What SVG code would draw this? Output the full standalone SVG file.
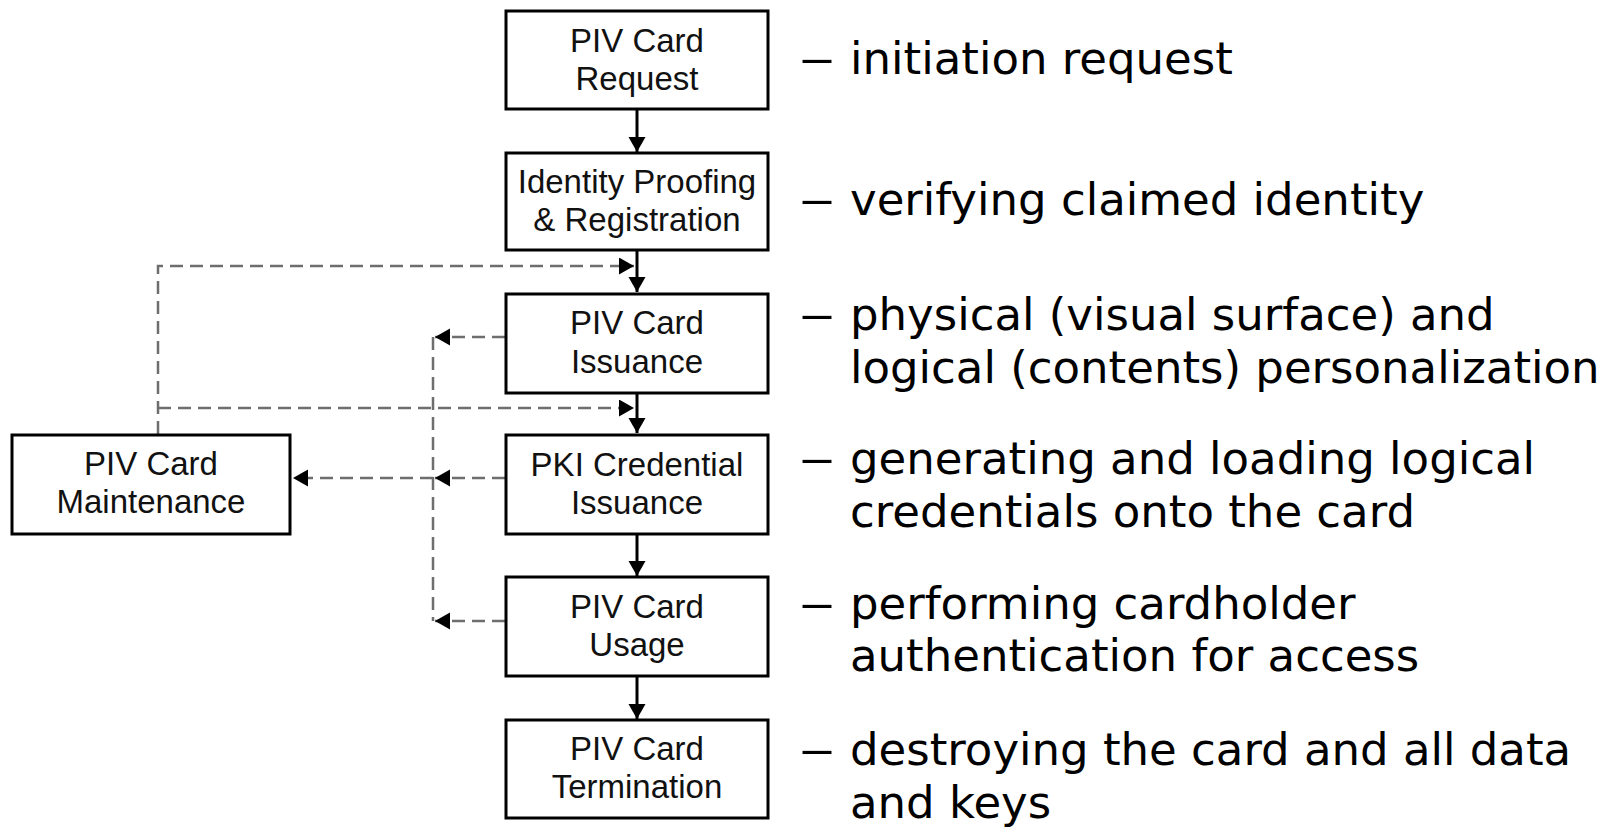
<svg xmlns="http://www.w3.org/2000/svg" width="1617" height="829" viewBox="0 0 1617 829">
  <style>
    .box { fill: #ffffff; stroke: #000000; stroke-width: 3; }
    .lbl { font-family: "Liberation Sans", Arial, sans-serif; font-size: 33px; fill: #111111; text-anchor: middle; }
    .desc { font-family: "DejaVu Sans", Verdana, sans-serif; font-size: 45px; fill: #000000; }
    .flow { fill: none; stroke: #000000; stroke-width: 3; }
    .loop { fill: none; stroke: #6e6e6e; stroke-width: 2.5; stroke-dasharray: 13 7; }
  </style>
  <defs>
    <marker id="head" markerUnits="userSpaceOnUse" markerWidth="16" markerHeight="18" refX="15" refY="8.5" orient="auto">
      <path d="M0,0 L15,8.5 L0,17 Z" fill="#000000"/>
    </marker>
  </defs>

  <rect width="1617" height="829" fill="#ffffff"/>

  <!-- connectors -->
  <g id="connectors">
    <!-- main lifecycle chain -->
    <line class="flow" x1="637" y1="110" x2="637" y2="152" marker-end="url(#head)"/>
    <line class="flow" x1="637" y1="251" x2="637" y2="292" marker-end="url(#head)"/>
    <line class="flow" x1="637" y1="394" x2="637" y2="433" marker-end="url(#head)"/>
    <line class="flow" x1="637" y1="535" x2="637" y2="576" marker-end="url(#head)"/>
    <line class="flow" x1="637" y1="677" x2="637" y2="719" marker-end="url(#head)"/>

    <!-- maintenance feeds back into issuance steps -->
    <path class="loop" d="M158,434 V266 H634" marker-end="url(#head)"/>
    <path class="loop" d="M158,408 H634" marker-end="url(#head)"/>

    <!-- issuance / usage into maintenance -->
    <path class="loop" d="M505,337 H435" marker-end="url(#head)"/>
    <path class="loop" d="M433,337 V621"/>
    <path class="loop" d="M505,621 H435" marker-end="url(#head)"/>
    <path class="loop" d="M505,478 H435" marker-end="url(#head)"/>
    <path class="loop" d="M433,478 H293" marker-end="url(#head)"/>
  </g>

  <g id="request">
    <rect class="box" x="506" y="11" width="262" height="98"/>
    <text class="lbl" x="637" y="52">PIV Card</text>
    <text class="lbl" x="637" y="90">Request</text>
  </g>
  <g id="proofing">
    <rect class="box" x="506" y="153" width="262" height="97"/>
    <text class="lbl" x="637" y="193">Identity Proofing</text>
    <text class="lbl" x="637" y="231">&amp; Registration</text>
  </g>
  <g id="issuance">
    <rect class="box" x="506" y="294" width="262" height="99"/>
    <text class="lbl" x="637" y="334">PIV Card</text>
    <text class="lbl" x="637" y="373">Issuance</text>
  </g>
  <g id="pki">
    <rect class="box" x="506" y="435" width="262" height="99"/>
    <text class="lbl" x="637" y="476">PKI Credential</text>
    <text class="lbl" x="637" y="514">Issuance</text>
  </g>
  <g id="usage">
    <rect class="box" x="506" y="577" width="262" height="99"/>
    <text class="lbl" x="637" y="618">PIV Card</text>
    <text class="lbl" x="637" y="656">Usage</text>
  </g>
  <g id="termination">
    <rect class="box" x="506" y="720" width="262" height="98"/>
    <text class="lbl" x="637" y="760">PIV Card</text>
    <text class="lbl" x="637" y="798">Termination</text>
  </g>
  <g id="maintenance">
    <rect class="box" x="12" y="435" width="278" height="99"/>
    <text class="lbl" x="151" y="475">PIV Card</text>
    <text class="lbl" x="151" y="513">Maintenance</text>
  </g>

  <!-- stage descriptions: a widened dash, then the wording -->
  <g id="descriptions">
    <text class="desc" transform="translate(799,74) scale(1.6,1)">–</text>
    <text class="desc" x="850" y="74">initiation request</text>
    <text class="desc" transform="translate(799,215) scale(1.6,1)">–</text>
    <text class="desc" x="850" y="215">verifying claimed identity</text>
    <text class="desc" transform="translate(799,330) scale(1.6,1)">–</text>
    <text class="desc" x="850" y="330">physical (visual surface) and</text>
    <text class="desc" x="850" y="383">logical (contents) personalization</text>
    <text class="desc" transform="translate(799,474) scale(1.6,1)">–</text>
    <text class="desc" x="850" y="474">generating and loading logical</text>
    <text class="desc" x="850" y="527">credentials onto the card</text>
    <text class="desc" transform="translate(799,619) scale(1.6,1)">–</text>
    <text class="desc" x="850" y="619">performing cardholder</text>
    <text class="desc" x="850" y="671">authentication for access</text>
    <text class="desc" transform="translate(799,765) scale(1.6,1)">–</text>
    <text class="desc" x="850" y="765">destroying the card and all data</text>
    <text class="desc" x="850" y="818">and keys</text>
  </g>
</svg>
